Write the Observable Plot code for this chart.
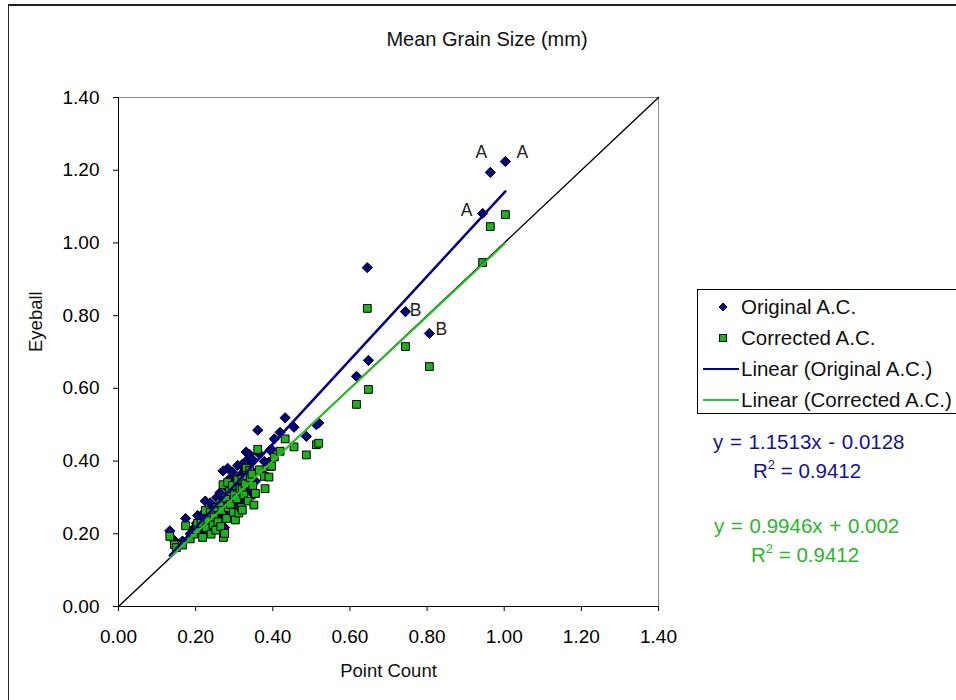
<!DOCTYPE html>
<html>
<head>
<meta charset="utf-8">
<script src="https://cdn.jsdelivr.net/npm/d3@7"></script>
<script src="https://cdn.jsdelivr.net/npm/@observablehq/plot@0.6"></script>
<style>
  body { margin: 0; background: #fff; overflow: hidden; font-family: "Liberation Sans", Arial, sans-serif; }
  #wrap { position: relative; width: 956px; height: 700px; overflow: hidden; background: #fff; }
  #border { position: absolute; left: 8px; top: 4px; width: 1200px; height: 1200px; border-left: 1.5px solid #222; border-top: 2px solid #222; }
  #chart { position: absolute; left: 0; top: 0; }
  #title { position: absolute; left: 0; width: 974px; top: 28px; text-align: center; font-size: 20px; color: #111; }
  #legend { position: absolute; left: 697px; top: 289px; width: 290px; height: 123px; border: 1px solid #000; background: #fff; }
  .row { position: absolute; left: 0; height: 24px; font-size: 20.5px; line-height: 24px; color: #111; white-space: nowrap; }
  .row svg { position: absolute; left: 0; top: 0; }
  .row span { position: absolute; left: 43px; top: 0; }
  .eq { position: absolute; font-size: 20.5px; white-space: nowrap; line-height: 22px; }
  .eq sup { font-size: 13px; vertical-align: 9px; line-height: 0; }
</style>
</head>
<body>
<div id="wrap">
  <div id="border"></div>
  <div id="chart"></div>
  <div id="title"></div>
  <div id="legend"></div>
  <div id="eqs"></div>
</div>
<script>
// ---------------- data ----------------
const chartTitle = "Mean Grain Size (mm)";
const xAxisTitle = "Point Count";
const yAxisTitle = "Eyeball";
const seriesNames = ["Original A.C.", "Corrected A.C."];
const trendNames = ["Linear (Original A.C.)", "Linear (Corrected A.C.)"];

const pointCount = [
  0.133, 0.145, 0.150, 0.166, 0.174, 0.186, 0.195, 0.202, 0.205, 0.214,
  0.218, 0.225, 0.228, 0.232, 0.238, 0.240, 0.245, 0.248, 0.252, 0.255,
  0.258, 0.263, 0.265, 0.268, 0.271, 0.272, 0.275, 0.278, 0.280, 0.283,
  0.285, 0.288, 0.290, 0.295, 0.298, 0.300, 0.303, 0.307, 0.309, 0.312,
  0.315, 0.318, 0.320, 0.321, 0.321, 0.325, 0.328, 0.331, 0.333, 0.336,
  0.340, 0.342, 0.346, 0.348, 0.351, 0.355, 0.361, 0.365, 0.378, 0.380,
  0.390, 0.393, 0.397, 0.404, 0.419, 0.432, 0.455, 0.487, 0.513, 0.519,
  0.617, 0.645, 0.648, 0.744, 0.806, 0.944, 0.964, 1.003
];
const originalAC = [
  0.208, 0.181, 0.172, 0.180, 0.242, 0.200, 0.215, 0.229, 0.250, 0.250,
  0.205, 0.290, 0.235, 0.262, 0.285, 0.215, 0.245, 0.270, 0.228, 0.300,
  0.255, 0.313, 0.240, 0.290, 0.373, 0.205, 0.217, 0.330, 0.265, 0.380,
  0.300, 0.351, 0.310, 0.370, 0.285, 0.340, 0.260, 0.328, 0.388, 0.282,
  0.360, 0.300, 0.390, 0.292, 0.358, 0.340, 0.375, 0.425, 0.402, 0.320,
  0.418, 0.395, 0.406, 0.370, 0.308, 0.345, 0.485, 0.420, 0.399, 0.360,
  0.397, 0.430, 0.432, 0.461, 0.479, 0.519, 0.493, 0.468, 0.500, 0.505,
  0.633, 0.932, 0.677, 0.811, 0.751, 1.081, 1.194, 1.224
];
const correctedAC = [
  0.193, 0.170, 0.162, 0.169, 0.222, 0.186, 0.199, 0.211, 0.229, 0.229,
  0.190, 0.264, 0.216, 0.239, 0.259, 0.199, 0.225, 0.246, 0.210, 0.272,
  0.233, 0.284, 0.220, 0.264, 0.335, 0.190, 0.201, 0.298, 0.242, 0.341,
  0.272, 0.316, 0.281, 0.333, 0.259, 0.307, 0.238, 0.296, 0.348, 0.257,
  0.324, 0.272, 0.350, 0.265, 0.322, 0.307, 0.337, 0.380, 0.360, 0.290,
  0.374, 0.354, 0.364, 0.333, 0.279, 0.311, 0.432, 0.376, 0.358, 0.324,
  0.356, 0.385, 0.386, 0.411, 0.427, 0.461, 0.439, 0.417, 0.445, 0.449,
  0.556, 0.820, 0.597, 0.715, 0.660, 0.946, 1.045, 1.078
];

// point annotations (index into the arrays above) and their text
const annotatedPoints = [77, 76, 75, 73, 74];
const annotationText = ["A", "A", "A", "B", "B"];

// trend lines shown on the chart
const fitSlopes = [1.1513, 0.9946];
const fitIntercepts = [-0.0128, 0.002];
const fitR2 = [0.9412, 0.9412];

const axisDomain = [0, 1.4];
const xTicks = [0, 0.2, 0.4, 0.6, 0.8, 1.0, 1.2, 1.4];
const yTicks = [0, 0.2, 0.4, 0.6, 0.8, 1.0, 1.2, 1.4];

// ---------------- styles ----------------
const NAVY = "#000080";
const GREEN_FILL = "#1fb01f";
const GREEN_LINE = "#2cc22c";
const BLUE_TEXT = "#14148f";
const GREEN_TEXT = "#2db52d";
const FONT = '"Liberation Sans", Arial, sans-serif';

// ---------------- chart ----------------
const idx = d3.range(pointCount.length);
const fmt = d3.format(".2f");
const xr = d3.extent(pointCount);
const fitLines = fitSlopes.map((s, k) => xr.map(x => ({x, y: s * x + fitIntercepts[k]})));
const diag = axisDomain.map(v => ({x: v, y: v}));

const labelDx = [17, -9, -16, 10, 12];
const labelDy = [-9, -20, -3, -1, -4];

const annotationMarks = annotatedPoints.map((p, j) =>
  Plot.text([p], {
    x: i => pointCount[i], y: i => originalAC[i], text: () => annotationText[j],
    dx: labelDx[j], dy: labelDy[j], fontSize: 17.5, fill: "#222"
  })
);

const plot = Plot.plot({
  width: 956, height: 700,
  marginLeft: 118, marginRight: 298, marginTop: 97, marginBottom: 94,
  style: {fontFamily: FONT, background: "transparent", color: "#000"},
  x: {domain: axisDomain},
  y: {domain: axisDomain},
  marks: [
    Plot.ruleY([axisDomain[1]], {stroke: "#8a8a8a", strokeWidth: 1}),
    Plot.ruleX([axisDomain[1]], {stroke: "#8a8a8a", strokeWidth: 1}),
    Plot.dot(idx, {x: i => pointCount[i], y: i => originalAC[i], symbol: "diamond2", r: 4.6,
      fill: NAVY, stroke: "#000", strokeWidth: 1}),
    Plot.dot(idx, {x: i => pointCount[i], y: i => correctedAC[i], symbol: "square", r: 4.4,
      fill: GREEN_FILL, stroke: "#000", strokeWidth: 1}),
    Plot.line(diag, {x: "x", y: "y", stroke: "#000", strokeWidth: 1.4}),
    Plot.line(fitLines[1], {x: "x", y: "y", stroke: GREEN_LINE, strokeWidth: 2}),
    Plot.line(fitLines[0], {x: "x", y: "y", stroke: NAVY, strokeWidth: 2.5}),
    Plot.ruleX([axisDomain[0]], {stroke: "#000", strokeWidth: 1}),
    Plot.ruleY([axisDomain[0]], {stroke: "#000", strokeWidth: 1}),
    Plot.axisX({ticks: xTicks, tickFormat: fmt, tickSize: 5, tickPadding: 18, fontSize: 19, label: null}),
    Plot.axisY({ticks: yTicks, tickFormat: fmt, tickSize: 5, tickPadding: 14, fontSize: 19, label: null}),
    Plot.text([xAxisTitle], {text: d => d, frameAnchor: "bottom", dy: 70, fontSize: 18.5, fill: "#111"}),
    Plot.text([yAxisTitle], {text: d => d, frameAnchor: "left", dx: -82, rotate: -90, fontSize: 18.5, fill: "#111"}),
    ...annotationMarks
  ]
});
document.getElementById("chart").appendChild(plot);
document.getElementById("title").textContent = chartTitle;

// ---------------- legend ----------------
const legend = document.getElementById("legend");
const entries = [
  {name: seriesNames[0], kind: "diamond"},
  {name: seriesNames[1], kind: "square"},
  {name: trendNames[0], kind: "line", color: NAVY},
  {name: trendNames[1], kind: "line", color: GREEN_LINE}
];
entries.forEach((e, k) => {
  const row = document.createElement("div");
  row.className = "row";
  row.style.top = (5 + k * 31) + "px";
  row.style.width = "290px";
  let sym = "";
  if (e.kind === "diamond") sym = `<svg width="42" height="24"><path d="M25,8 L29,12 L25,16 L21,12 Z" fill="${NAVY}" stroke="#000" stroke-width="1"/></svg>`;
  else if (e.kind === "square") sym = `<svg width="42" height="24"><rect x="21.5" y="8.5" width="7" height="7" fill="${GREEN_FILL}" stroke="#000" stroke-width="1"/></svg>`;
  else sym = `<svg width="42" height="24"><line x1="5" x2="41" y1="12" y2="12" stroke="${e.color}" stroke-width="2"/></svg>`;
  row.innerHTML = sym + `<span>${e.name}</span>`;
  legend.appendChild(row);
});

// ---------------- equations ----------------
const eqs = document.getElementById("eqs");
const eqLeft = [713, 714];
const r2Left = [753, 751];
const eqTop = [431, 515];
const eqColor = [BLUE_TEXT, GREEN_TEXT];
fitSlopes.forEach((s, k) => {
  const b = fitIntercepts[k];
  const eq = document.createElement("div");
  eq.className = "eq";
  eq.style.left = eqLeft[k] + "px";
  eq.style.top = eqTop[k] + "px";
  eq.style.color = eqColor[k];
  eq.style.wordSpacing = "1px";
  eq.textContent = `y = ${s}x ${b < 0 ? "-" : "+"} ${Math.abs(b)}`;
  eqs.appendChild(eq);
  const r2 = document.createElement("div");
  r2.className = "eq";
  r2.style.left = r2Left[k] + "px";
  r2.style.top = (eqTop[k] + 29) + "px";
  r2.style.color = eqColor[k];
  r2.innerHTML = `R<sup>2</sup> = ${fitR2[k]}`;
  eqs.appendChild(r2);
});
</script>
</body>
</html>
